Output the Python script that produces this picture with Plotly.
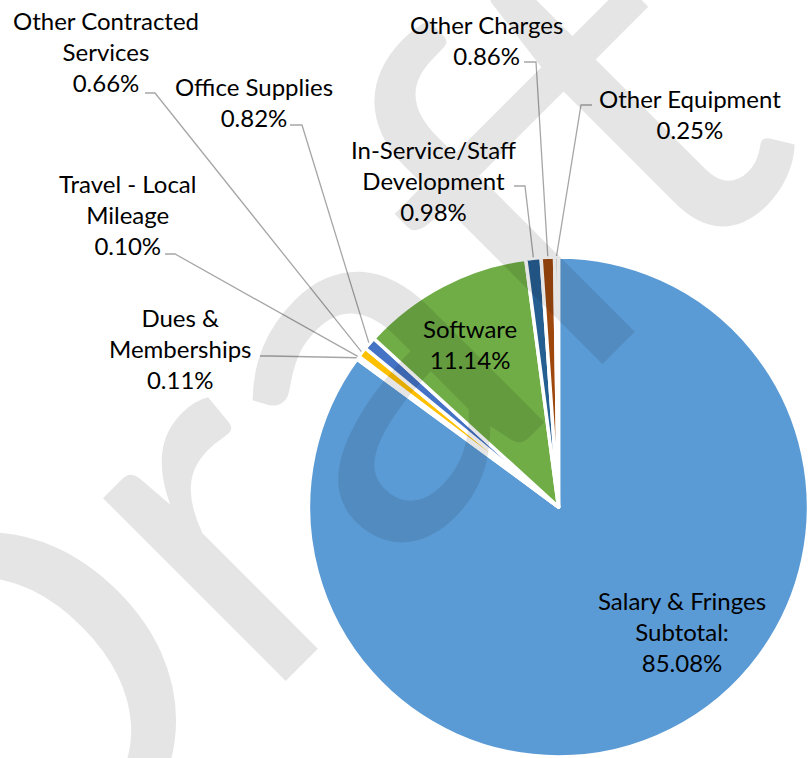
import math
import plotly.graph_objects as go

# ---- data ----
categories = ["Salary & Fringes Subtotal:", "Dues & Memberships", "Travel - Local Mileage",
              "Other Contracted Services", "Office Supplies", "Software",
              "In-Service/Staff Development", "Other Charges", "Other Equipment"]
label_lines = ["Salary & Fringes<br>Subtotal:", "Dues &<br>Memberships", "Travel - Local<br>Mileage",
               "Other Contracted<br>Services", "Office Supplies", "Software",
               "In-Service/Staff<br>Development", "Other Charges", "Other Equipment"]
values = [85.08, 0.11, 0.10, 0.66, 0.82, 11.14, 0.98, 0.86, 0.25]
colors = ["#5B9BD5", "#ED7D31", "#A5A5A5", "#FFC000", "#4472C4", "#70AD47",
          "#255E91", "#9E480E", "#A5A5A5"]

# ---- layout constants (pixels) ----
W, H = 812, 758
CX, CY, R = 558.5, 507, 250

# label centres and leader-line starts (pixels)
label_pos = [(682, 631), (180, 348), (127, 214), (106, 51), (254, 102),
             (470, 344), (434, 181), (486, 40), (690, 114)]
leader_start = [None, [(260, 356), (270, 356)], [(165, 254), (175, 254)],
                [(145, 93), (155, 93)], [(290, 125), (302, 125)], None,
                [(514, 186), (525, 186)], [(524, 62), (536, 62)], [(592, 105), (581, 105)]]

def px(x):
    return x / W

def py(y):
    return 1 - y / H

fig = go.Figure()
fig.add_trace(go.Pie(
    labels=categories, values=values, sort=False, direction="clockwise", rotation=0,
    marker=dict(colors=colors, line=dict(color="white", width=3.5)),
    textinfo="none", hoverinfo="skip", showlegend=False,
    domain=dict(x=[px(CX - R), px(CX + R)], y=[py(CY + R), py(CY - R)]),
))

# watermark (drawn first so labels sit above)
annotations = [dict(text="Draft", x=px(262), y=py(426), xref="paper", yref="paper",
                    xanchor="center", yanchor="middle", showarrow=False, textangle=-45,
                    font=dict(family="Lato", size=510, color="rgba(0,0,0,0.1)"))]

shapes = []
total = sum(values)
cum = 0.0
for i, v in enumerate(values):
    mid = (cum + v / 2) / total
    cum += v
    ang = 2 * math.pi * mid
    ex, ey = CX + (R + 1) * math.sin(ang), CY - (R + 1) * math.cos(ang)
    annotations.append(dict(
        text=f"{label_lines[i]}<br>{v:.2f}%", x=px(label_pos[i][0]), y=py(label_pos[i][1]),
        xref="paper", yref="paper", xanchor="center", yanchor="middle", align="center",
        showarrow=False, font=dict(family="Lato", size=24, color="#000000")))
    if leader_start[i]:
        pts = leader_start[i] + [(ex, ey)]
        path = "M " + " L ".join(f"{px(a):.5f},{py(b):.5f}" for a, b in pts)
        shapes.append(dict(type="path", path=path, xref="paper", yref="paper",
                           line=dict(color="#A6A6A6", width=1.3)))

fig.update_layout(width=W, height=H, margin=dict(l=0, r=0, t=0, b=0),
                  paper_bgcolor="white", plot_bgcolor="white",
                  annotations=annotations, shapes=shapes)
fig.write_html("out.html", config={"displayModeBar": False},
               post_script="document.body.style.margin='0';document.body.style.overflow='hidden';")
